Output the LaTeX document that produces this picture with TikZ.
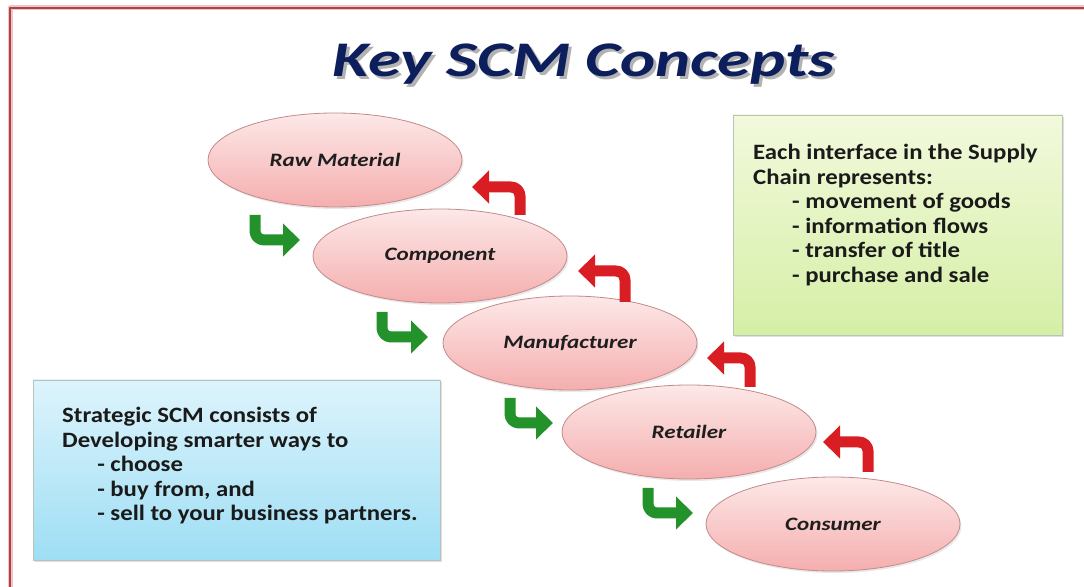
\documentclass[tikz,border=0pt]{standalone}
\usepackage{fontspec}
\setmainfont{Carlito}
\usetikzlibrary{arrows.meta}
\usetikzlibrary{shapes, shadows}

\definecolor{titleblue}{HTML}{0C1E5B}
\definecolor{framered}{HTML}{A8444A}
\definecolor{framepink}{HTML}{F2C4C6}
\definecolor{stagetop}{HTML}{FDE8E8}
\definecolor{stagebottom}{HTML}{F5AEAE}
\definecolor{stageline}{HTML}{C48A8A}
\definecolor{stagetext}{HTML}{1E1E1E}
\definecolor{fwdgreen}{HTML}{23922A}
\definecolor{backred}{HTML}{D81E22}
\definecolor{greentop}{HTML}{F2F9DC}
\definecolor{greenbottom}{HTML}{D5EFA6}
\definecolor{bluetop}{HTML}{DDF4FC}
\definecolor{bluebottom}{HTML}{9EDEF4}
\definecolor{boxline}{HTML}{B8C4B8}
\definecolor{notetext}{HTML}{1A1A1A}

% wide lettering for the stage names
\newcommand{\stagename}[1]{\scalebox{1.22}[1]{#1}}

\begin{document}
\begin{tikzpicture}[>={Triangle[length=17bp,width=32bp]},line join=round,
  stage/.style={ellipse,draw=stageline,line width=0.8bp,top color=stagetop,bottom color=stagebottom,
    minimum width=254bp,minimum height=94bp,inner sep=0pt,text=stagetext,
    font=\fontsize{19}{21}\selectfont\bfseries\itshape,
    drop shadow={opacity=0.18,shadow xshift=1.5bp,shadow yshift=-2bp}},
  fwd/.style={draw=fwdgreen,line width=11bp,rounded corners=9bp,->},
  back/.style={draw=backred,line width=11bp,rounded corners=9bp,->},
  notebox/.style={rectangle,draw=boxline,line width=0.6bp,inner sep=0pt,
    drop shadow={opacity=0.25,shadow xshift=2bp,shadow yshift=-2bp}},
  notetext/.style={anchor=north west,align=left,inner sep=0pt,text=notetext,
    xscale=1.13,transform shape,font=\fontsize{22}{24.6}\selectfont\bfseries},
  headline/.style={anchor=base,xscale=1.34,transform shape,font=\fontsize{50}{58}\selectfont\bfseries\itshape},
]
\useasboundingbox [fill=white] (0bp,0bp) rectangle (1084bp,587bp);
%% frame
\draw [framepink,line width=5bp] (10bp,0bp) |- (1084bp,579bp);
\draw [framered,line width=2bp] (10bp,0bp) |- (1084bp,579bp);
%% title
\node (node_title_shadow) at (587bp,507bp) [headline,text=black!30] {Key SCM Concepts};
\node (node_title) at (584bp,510bp) [headline,text=titleblue] {Key SCM Concepts};
%% supply chain stages
\node (node_raw) at (335bp,427bp) [stage] {\stagename{Raw Material}};
  \node (node_component) at (440bp,331bp) [stage] {\stagename{Component}};
  \node (node_manufacturer) at (570bp,244bp) [stage] {\stagename{Manufacturer}};
  \node (node_retailer) at (689bp,155bp) [stage] {\stagename{Retailer}};
  \node (node_consumer) at (833bp,63bp) [stage] {\stagename{Consumer}};
%% side notes
\node (node_interface_box) at (897.5bp,362bp) [notebox,top color=greentop,bottom color=greenbottom,minimum width=329bp,minimum height=220bp] {};
\node (node_interface) at (753bp,443bp) [notetext] {Each interface in the Supply\\
  Chain represents:\\
  \hspace*{34.5bp}- movement of goods\\
  \hspace*{34.5bp}- information flows\\
  \hspace*{34.5bp}- transfer of title\\
  \hspace*{34.5bp}- purchase and sale};
\node (node_strategic_box) at (236.5bp,117bp) [notebox,top color=bluetop,bottom color=bluebottom,minimum width=407bp,minimum height=180bp] {};
\node (node_strategic) at (62bp,180bp) [notetext] {Strategic SCM consists of\\
  Developing smarter ways to\\
  \hspace*{31bp}- choose\\
  \hspace*{31bp}- buy from, and\\
  \hspace*{31bp}- sell to your business partners.};
%% goods flow down, information flows back up
\coordinate (fwd_1a) at (255bp,372bp);
  \coordinate (fwd_1b) at (300bp,347bp);
  \coordinate (fwd_2a) at (382bp,275bp);
  \coordinate (fwd_2b) at (428bp,250bp);
  \coordinate (fwd_3a) at (510bp,189bp);
  \coordinate (fwd_3b) at (553bp,164bp);
  \coordinate (fwd_4a) at (648bp,99bp);
  \coordinate (fwd_4b) at (693bp,74bp);
\coordinate (back_1a) at (520bp,372bp);
  \coordinate (back_1b) at (472bp,400bp);
  \coordinate (back_2a) at (625bp,285bp);
  \coordinate (back_2b) at (578bp,316bp);
  \coordinate (back_3a) at (750bp,200bp);
  \coordinate (back_3b) at (707bp,229bp);
  \coordinate (back_4a) at (868bp,115bp);
  \coordinate (back_4b) at (823bp,145bp);
\draw [fwd] (fwd_1a) |- (fwd_1b);
  \draw [fwd] (fwd_2a) |- (fwd_2b);
  \draw [fwd] (fwd_3a) |- (fwd_3b);
  \draw [fwd] (fwd_4a) |- (fwd_4b);
\draw [back] (back_1a) |- (back_1b);
  \draw [back] (back_2a) |- (back_2b);
  \draw [back] (back_3a) |- (back_3b);
  \draw [back] (back_4a) |- (back_4b);
%
\end{tikzpicture}
\end{document}
